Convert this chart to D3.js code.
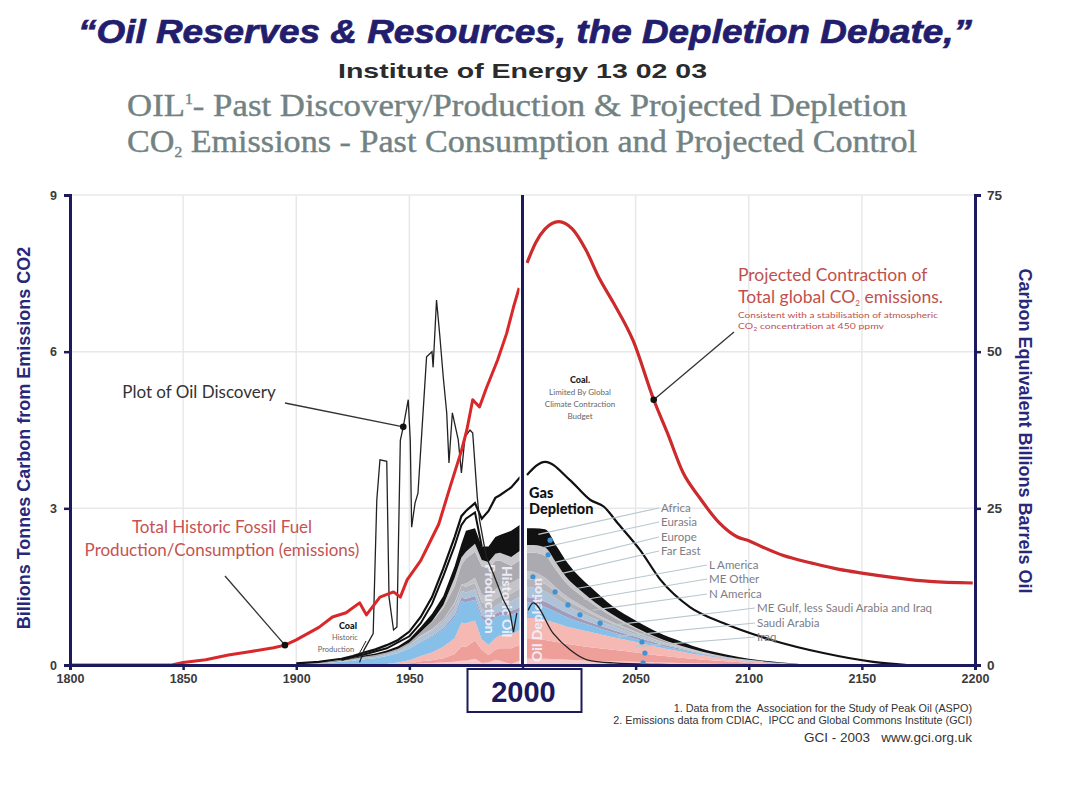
<!DOCTYPE html>
<html>
<head>
<meta charset="utf-8">
<script src="https://cdn.jsdelivr.net/npm/d3@7"></script>
<style>
  body { margin: 0; background: #fff; }
  svg { display: block; }
  .ann { font-family: Lato, "Noto Sans", sans-serif; }
</style>
</head>
<body>
<div id="chart"></div>
<script>
// ---- data ----
// emissions, billions tonnes carbon
const emisYears = [1800,1845,1850,1860,1870,1880,1890,1895,1900,1905,1910,1916,1922,1928,1931,1937,1943,1946,1949,1955,1958,1963,1968,1973,1975.4,1978,1981,1984,1989,1993,1996,1998.5];
const emisVals  = [0,0,0.05,0.1,0.19,0.26,0.33,0.38,0.48,0.6,0.72,0.92,1.0,1.19,0.96,1.3,1.4,1.3,1.63,2.0,2.26,2.7,3.41,4.1,4.5,5.08,4.94,5.3,5.84,6.35,6.85,7.22];
const projYears = [2002,2006,2010,2016,2022,2028,2034,2040,2049,2058,2064,2071,2078,2087,2095,2100,2106,2115,2128,2140,2150,2165,2180,2199];
const projVals  = [7.7,8.1,8.35,8.49,8.35,7.95,7.4,6.95,6.2,5.08,4.45,3.68,3.22,2.72,2.45,2.38,2.26,2.1,1.95,1.83,1.76,1.67,1.6,1.57];

// oil discovery
const discYears = [1928,1930,1934,1935.6,1937,1940,1941,1943,1944.5,1946,1947.3,1949.5,1950.4,1951,1952.5,1953.8,1957.6,1960,1960.5,1962,1963.5,1965,1966.5,1967.5,1969,1971.6,1973,1974.6,1976.8,1978,1980,1981,1984,1987,1991.5,1994.5,1996,1997.5];
const discVals  = [0.05,0.29,0.6,3.16,3.93,3.9,1.3,0.67,0.73,4.3,4.56,5.08,4.3,2.64,3.1,3.29,5.9,6.0,5.7,6.99,6.28,5.5,4.83,3.87,4.83,4.31,3.68,4.37,4.5,4.44,3.22,2.78,2.07,1.76,1.25,1.0,0.63,1.0];
const discProjYears = [2002.5,2004.7,2013.5,2021,2028.5,2040,2060,2075];
const discProjVals  = [1.05,1.19,0.61,0.29,0.1,0.04,0.01,0];

// oil production by region, historic
const histYears = [1900,1910,1920,1925,1930,1935,1940,1945,1950,1955,1960,1965,1970,1973,1975,1979,1982,1985,1988,1990,1995,1999];
const iraqH    = [0,0,0,0,0,0,0,0.01,0.01,0.03,0.04,0.05,0.06,0.08,0.08,0.12,0.04,0.05,0.1,0.08,0.02,0.09];
const saudiH   = [0,0,0,0,0,0,0,0.01,0.02,0.04,0.05,0.08,0.15,0.28,0.27,0.35,0.25,0.14,0.19,0.24,0.3,0.3];
const meGulfH  = [0,0,0,0,0.01,0.01,0.02,0.03,0.06,0.1,0.15,0.22,0.3,0.45,0.45,0.38,0.2,0.2,0.22,0.25,0.27,0.28];
const nAmH     = [0.015,0.03,0.06,0.08,0.1,0.12,0.15,0.18,0.22,0.27,0.3,0.33,0.4,0.41,0.4,0.4,0.4,0.42,0.4,0.38,0.37,0.36];
const meOtherH = [0,0,0,0,0,0,0,0,0.01,0.01,0.02,0.03,0.05,0.07,0.07,0.07,0.06,0.06,0.07,0.07,0.08,0.08];
const lAmH     = [0,0,0.01,0.02,0.03,0.03,0.04,0.05,0.07,0.09,0.1,0.11,0.13,0.13,0.12,0.13,0.13,0.14,0.15,0.16,0.18,0.2];
const farEastH = [0,0,0,0,0,0,0,0,0,0.01,0.02,0.04,0.08,0.1,0.11,0.12,0.12,0.13,0.14,0.14,0.15,0.16];
const europeH  = [0,0,0,0,0,0,0,0,0,0.01,0.01,0.01,0.02,0.02,0.06,0.1,0.15,0.17,0.18,0.18,0.2,0.2];
const eurasiaH = [0.005,0.01,0.01,0.02,0.02,0.03,0.03,0.03,0.04,0.07,0.14,0.22,0.32,0.38,0.48,0.5,0.54,0.54,0.54,0.5,0.33,0.34];
const africaH  = [0,0,0,0,0,0,0,0,0,0,0.01,0.06,0.16,0.14,0.13,0.15,0.12,0.12,0.14,0.15,0.17,0.18];
const bandH    = [0,0,0.01,0.01,0.02,0.03,0.04,0.05,0.07,0.1,0.14,0.17,0.22,0.26,0.4,0.3,0.26,0.3,0.32,0.34,0.5,0.5];
// gas envelope, historic
const gasH     = [0.03,0.06,0.12,0.17,0.24,0.3,0.38,0.48,0.64,0.92,1.3,1.85,2.45,2.85,2.95,3.1,2.8,2.95,3.2,3.25,3.4,3.6];
const innerYears = [1920,1930,1940,1950,1955,1960,1965,1970,1973,1975,1979,1982];
const innerVals  = [0.1,0.2,0.32,0.55,0.8,1.17,1.7,2.28,2.68,2.8,2.92,2.27];

// oil depletion by region, projected
const depYears = [2002,2005,2010,2015,2020,2025,2030,2040,2050,2060,2070,2080,2090,2100,2115,2130];
const iraqP    = [0.12,0.12,0.12,0.11,0.1,0.09,0.08,0.07,0.06,0.05,0.04,0.03,0.02,0.01,0,0];
const saudiP   = [0.38,0.38,0.36,0.33,0.3,0.28,0.26,0.22,0.18,0.13,0.1,0.07,0.05,0.03,0.01,0];
const meGulfP  = [0.4,0.4,0.38,0.36,0.33,0.31,0.29,0.24,0.2,0.16,0.12,0.08,0.05,0.04,0.02,0];
const nAmP     = [0.3,0.28,0.25,0.21,0.18,0.15,0.13,0.09,0.06,0.04,0.03,0.02,0.01,0.01,0,0];
const meOtherP = [0.1,0.1,0.1,0.09,0.08,0.07,0.06,0.05,0.04,0.03,0.02,0.01,0.01,0,0,0];
const lAmP     = [0.2,0.2,0.2,0.17,0.14,0.12,0.1,0.07,0.05,0.03,0.02,0.01,0.01,0.01,0.01,0];
const farEastP = [0.15,0.15,0.14,0.12,0.1,0.09,0.07,0.05,0.03,0.02,0.01,0.01,0,0,0,0];
const europeP  = [0.15,0.15,0.12,0.09,0.07,0.06,0.05,0.03,0.02,0.01,0.01,0,0,0,0,0];
const eurasiaP = [0.35,0.37,0.42,0.33,0.24,0.19,0.16,0.1,0.06,0.04,0.01,0.01,0.01,0,0,0];
const africaP  = [0.15,0.15,0.16,0.14,0.11,0.09,0.07,0.04,0.02,0.01,0.01,0.01,0,0,0,0];
const bandP    = [0.32,0.32,0.35,0.33,0.3,0.25,0.23,0.16,0.13,0.1,0.08,0.05,0.04,0.02,0.01,0];
const gasPYears = [2002,2010,2021,2030,2036,2042,2052,2061,2074,2089,2110,2133,2155,2170];
const gasPVals  = [3.64,3.89,3.54,3.16,3.03,2.72,2.2,1.63,1.11,0.8,0.48,0.23,0.06,0];

// blue dotted markers inside the projected stack
const dotYears = [2012.2,2011.3,2004.6,2014.4,2020.1,2025.4,2034.3,2052.8,2054.1,2053.3];
const dotVals  = [2.39,2.11,1.69,1.40,1.15,0.96,0.80,0.44,0.23,0.04];

const regions = ["Iraq","Saudi Arabia","ME Gulf, less Saudi Arabia and Iraq","N America","ME Other","L America","Far East","Europe","Eurasia","Africa"];
const regionColors = ["#f6cac8","#ef9f9a","#f5b8b3","#86bfe8","#a29bbb","#aec2d8","#b3b3ba","#c3c3c8","#aaaab0","#c9c9cd"];

const leftTicks = [0,3,6,9];
const rightTicks = [0,25,50,75];
const xTicks = [1800,1850,1900,1950,2000,2050,2100,2150,2200];

// ---- layout ----
const W = 1072, H = 809;
const svg = d3.select("#chart").append("svg").attr("width", W).attr("height", H);

const x = d3.scaleLinear().domain([1800, 2200]).range([70, 975]);
const y = d3.scaleLinear().domain([0, 9]).range([665, 195]);
const yR = d3.scaleLinear().domain([0, 75]).range([665, 195]);
const navy = "#1c1a5c";

// titles
svg.append("text").attr("x", 78).attr("y", 43).attr("textLength", 894).attr("lengthAdjust", "spacingAndGlyphs")
  .style("font-family", "'Liberation Sans', Arial, sans-serif").style("font-weight", "bold").style("font-style", "italic")
  .style("font-size", "33px").style("fill", "#221d6c").style("stroke", "#221d6c").style("stroke-width", 0.7)
  .text("\u201cOil Reserves & Resources, the Depletion Debate,\u201d");
svg.append("text").attr("x", 338).attr("y", 78).attr("textLength", 369).attr("lengthAdjust", "spacingAndGlyphs")
  .style("font-family", "'Liberation Sans Narrow', 'Liberation Sans', sans-serif").style("font-weight", "bold")
  .style("font-size", "21px").style("fill", "#2b2b2b")
  .text("Institute of Energy 13 02 03");
const t3 = svg.append("text").attr("x", 127).attr("y", 116).attr("textLength", 780).attr("lengthAdjust", "spacingAndGlyphs")
  .style("font-family", "'Liberation Serif', serif").style("font-size", "31px").style("fill", "#728282")
  .style("stroke", "#728282").style("stroke-width", 0.4);
t3.append("tspan").text("OIL");
t3.append("tspan").attr("dy", -12).style("font-size", "14px").text("1");
t3.append("tspan").attr("dy", 12).text("- Past Discovery/Production & Projected Depletion");
const t4 = svg.append("text").attr("x", 127).attr("y", 152).attr("textLength", 790).attr("lengthAdjust", "spacingAndGlyphs")
  .style("font-family", "'Liberation Serif', serif").style("font-size", "31px").style("fill", "#728282")
  .style("stroke", "#728282").style("stroke-width", 0.4);
t4.append("tspan").text("CO");
t4.append("tspan").attr("dy", 5).style("font-size", "14px").text("2");
t4.append("tspan").attr("dy", -5).text(" Emissions - Past Consumption and Projected Control");

// grid
const grid = svg.append("g");
grid.selectAll(".gx").data([1850,1900,1950,2050,2100,2150]).enter().append("line")
  .attr("x1", d => x(d)).attr("x2", d => x(d)).attr("y1", y(9)).attr("y2", y(0))
  .attr("stroke", "#e8e8e8").attr("stroke-width", 1.5);
grid.selectAll(".gy").data([3,6,9]).enter().append("line")
  .attr("x1", x(1800)).attr("x2", x(2200)).attr("y1", d => y(d)).attr("y2", d => y(d))
  .attr("stroke", "#e8e8e8").attr("stroke-width", 1.5);

// clips for the two halves
const defs = svg.append("defs");
defs.append("clipPath").attr("id", "past").append("rect")
  .attr("x", x(1800)).attr("y", y(9)).attr("width", x(2000) - x(1800) - 3).attr("height", y(0) - y(9));
defs.append("clipPath").attr("id", "future").append("rect")
  .attr("x", x(2000) + 3).attr("y", y(9)).attr("width", x(2200) - x(2000) - 3).attr("height", y(0) - y(9));

const keys = regions.concat(["band"]);
const colors = regionColors.concat(["#111"]);

function table(years, cols) {
  return years.map((yr, i) => {
    const row = { year: yr };
    keys.forEach((k, j) => row[k] = cols[j][i]);
    return row;
  });
}
const histTable = table(histYears, [iraqH, saudiH, meGulfH, nAmH, meOtherH, lAmH, farEastH, europeH, eurasiaH, africaH, bandH]);
const projTable = table(depYears, [iraqP, saudiP, meGulfP, nAmP, meOtherP, lAmP, farEastP, europeP, eurasiaP, africaP, bandP]);
const stack = d3.stack().keys(keys);

function drawStack(rows, clip, curve) {
  const area = d3.area().x(d => x(d.data.year)).y0(d => y(d[0])).y1(d => y(d[1])).curve(curve);
  svg.append("g").attr("clip-path", `url(#${clip})`)
    .selectAll("path").data(stack(rows)).enter().append("path")
    .attr("d", area).attr("fill", (d, i) => colors[i]);
}
drawStack(histTable, "past", d3.curveLinear);
drawStack(projTable, "future", d3.curveMonotoneX);

const pairs = (xs, vs) => xs.map((v, i) => [v, vs[i]]);
const lineOf = curve => d3.line().x(d => x(d[0])).y(d => y(d[1])).curve(curve);

// rotated labels inside the stacks
const whiteTxt = (tx, ty, rot, s) => svg.append("text").attr("class", "ann")
  .attr("transform", `translate(${tx},${ty}) rotate(${rot})`)
  .style("font-size", "14px").style("font-weight", "900").style("fill", "#f2f0fa").style("opacity", 0.92).text(s);
whiteTxt(x(1983.5), 564, 90, "Production");
whiteTxt(x(1991), 566, 90, "Historic Oil");
whiteTxt(x(2008.5), 662, -90, "Oil Depletion");

// black envelope lines
const past = svg.append("g").attr("clip-path", "url(#past)");
const fut = svg.append("g").attr("clip-path", "url(#future)");
past.append("path").attr("d", lineOf(d3.curveLinear)(pairs(histYears, gasH)))
  .attr("fill", "none").attr("stroke", "#111").attr("stroke-width", 2.2);
past.append("path").attr("d", lineOf(d3.curveLinear)(pairs(innerYears, innerVals)))
  .attr("fill", "none").attr("stroke", "#111").attr("stroke-width", 2);
fut.append("path").attr("d", lineOf(d3.curveMonotoneX)(pairs(gasPYears, gasPVals)))
  .attr("fill", "none").attr("stroke", "#111").attr("stroke-width", 2.2);

// discovery
past.append("path").attr("d", lineOf(d3.curveLinear)(pairs(discYears, discVals)))
  .attr("fill", "none").attr("stroke", "#222").attr("stroke-width", 1.3);
fut.append("path").attr("d", lineOf(d3.curveMonotoneX)(pairs(discProjYears, discProjVals)))
  .attr("fill", "none").attr("stroke", "#222").attr("stroke-width", 1.3);

// blue dots
svg.selectAll(".bd").data(pairs(dotYears, dotVals)).enter().append("circle")
  .attr("cx", d => x(d[0])).attr("cy", d => y(d[1])).attr("r", 2.6).attr("fill", "#3d93d6");

// emissions
past.append("path").attr("d", lineOf(d3.curveLinear)(pairs(emisYears, emisVals)))
  .attr("fill", "none").attr("stroke", "#d8282a").attr("stroke-width", 3).attr("stroke-linejoin", "round");
fut.append("path").attr("d", lineOf(d3.curveMonotoneX)(pairs(projYears, projVals)))
  .attr("fill", "none").attr("stroke", "#cc2a2c").attr("stroke-width", 3.2);

// axes
const axL = svg.append("g").attr("transform", `translate(${x(1800)},0)`)
  .call(d3.axisLeft(y).tickValues(leftTicks).tickSize(6).tickFormat(d3.format("d")));
const axR = svg.append("g").attr("transform", `translate(${x(2200)},0)`)
  .call(d3.axisRight(yR).tickValues(rightTicks).tickSize(6).tickFormat(d3.format("d")));
const axB = svg.append("g").attr("transform", `translate(0,${y(0)})`)
  .call(d3.axisBottom(x).tickValues(xTicks).tickSize(5).tickFormat(d => d === 2000 ? "" : d));
[axL, axR, axB].forEach(a => {
  a.select(".domain").attr("stroke", navy).attr("stroke-width", 3);
  a.selectAll(".tick line").attr("stroke", navy).attr("stroke-width", 2.5);
  a.selectAll("text").style("font-family", "'Liberation Sans', Arial, sans-serif").style("font-weight", "bold")
    .style("font-size", "12.5px").style("fill", "#3a3a3a");
});
axL.selectAll("text").attr("dx", -4);
axR.selectAll("text").attr("dx", 3).style("font-size", "13.5px");
axB.selectAll("text").attr("dy", 10);

// 2000 divider and box
svg.append("line").attr("x1", x(2000)).attr("x2", x(2000)).attr("y1", y(9)).attr("y2", y(0))
  .attr("stroke", navy).attr("stroke-width", 3);
svg.append("rect").attr("x", x(2000) - 55).attr("y", y(0) + 4).attr("width", 114).attr("height", 43)
  .attr("fill", "#fff").attr("stroke", navy).attr("stroke-width", 2);
svg.append("text").attr("x", x(2000) + 1).attr("y", y(0) + 37).attr("text-anchor", "middle")
  .style("font-family", "'Liberation Sans', Arial, sans-serif").style("font-weight", "bold")
  .style("font-size", "29px").style("fill", navy).text("2000");

// axis titles
svg.append("text").attr("transform", `translate(30,438) rotate(-90)`).attr("text-anchor", "middle")
  .style("font-family", "'Liberation Sans', Arial, sans-serif").style("font-weight", "bold")
  .style("font-size", "18px").style("fill", "#28287a").text("Billions Tonnes Carbon from Emissions CO2");
svg.append("text").attr("transform", `translate(1019,431) rotate(90)`).attr("text-anchor", "middle")
  .style("font-family", "'Liberation Sans', Arial, sans-serif").style("font-weight", "bold")
  .style("font-size", "18px").style("fill", "#28287a").text("Carbon Equivalent Billions Barrels Oil");

// annotations
const ann = (tx, ty, s, size, fill, weight, anchor) => svg.append("text").attr("class", "ann")
  .attr("x", tx).attr("y", ty).attr("text-anchor", anchor || "start")
  .style("font-size", size + "px").style("fill", fill).style("font-weight", weight || "normal").text(s);
const leader = (x1, y1, x2, y2, c, w) => svg.append("line").attr("x1", x1).attr("y1", y1).attr("x2", x2).attr("y2", y2)
  .attr("stroke", c || "#333").attr("stroke-width", w || 1.3);
const dot = (p) => svg.append("circle").attr("cx", x(p[0])).attr("cy", y(p[1])).attr("r", 3.3).attr("fill", "#111");

ann(199, 398, "Plot of Oil Discovery", 17, "#333", "normal", "middle");
leader(285, 403, x(1947.3), y(4.56));
dot([1947.3, 4.56]);

ann(222, 533, "Total Historic Fossil Fuel", 17, "#c55352", "normal", "middle");
ann(222, 556, "Production/Consumption (emissions)", 17, "#c55352", "normal", "middle");
leader(225, 576, x(1895), y(0.38));
dot([1895, 0.38]);

ann(348, 629, "Coal", 9, "#111", "900", "middle");
ann(345, 640, "Historic", 7.5, "#666", "normal", "middle");
ann(336, 652, "Production", 7.5, "#666", "normal", "middle");
leader(359, 654, 366, 641, "#222", 1);

ann(580, 383, "Coal.", 9, "#222", "900", "middle");
ann(580, 395, "Limited By Global", 8, "#666", "normal", "middle");
ann(580, 407, "Climate Contraction", 8, "#666", "normal", "middle");
ann(580, 419, "Budget", 8, "#666", "normal", "middle");

ann(529, 498, "Gas", 14.5, "#111", "900");
ann(529, 514, "Depletion", 14.5, "#111", "900");

ann(738, 281, "Projected Contraction of", 17.5, "#c0504d");
const pc2 = svg.append("text").attr("class", "ann").attr("x", 738).attr("y", 303)
  .style("font-size", "17.5px").style("fill", "#c0504d");
pc2.append("tspan").text("Total global CO");
pc2.append("tspan").attr("dy", 3).style("font-size", "8px").text("2");
pc2.append("tspan").attr("dy", -3).text(" emissions.");
svg.append("text").attr("class", "ann").attr("x", 738).attr("y", 318).attr("textLength", 200).attr("lengthAdjust", "spacingAndGlyphs")
  .style("font-size", "7.5px").style("fill", "#c0504d").text("Consistent with a stabilisation of atmospheric");
const pc4 = svg.append("text").attr("class", "ann").attr("x", 738).attr("y", 329).attr("textLength", 146).attr("lengthAdjust", "spacingAndGlyphs")
  .style("font-size", "7.5px").style("fill", "#c0504d");
pc4.append("tspan").text("CO");
pc4.append("tspan").attr("dy", 1.5).style("font-size", "5px").text("2");
pc4.append("tspan").attr("dy", -1.5).text(" concentration at 450 ppmv");
leader(734, 332, x(2058), y(5.08));
dot([2058, 5.08]);

// region labels with leader lines into the depletion stack
const regionLabels = [
  { name: "Africa", lx: 661, ly: 512, at: [2007, 2.5] },
  { name: "Eurasia", lx: 661, ly: 526, at: [2009, 2.25] },
  { name: "Europe", lx: 661, ly: 541, at: [2013, 1.95] },
  { name: "Far East", lx: 661, ly: 555, at: [2017, 1.75] },
  { name: "L America", lx: 709, ly: 569, at: [2022, 1.45] },
  { name: "ME Other", lx: 709, ly: 583, at: [2027, 1.25] },
  { name: "N America", lx: 709, ly: 598, at: [2031, 1.05] },
  { name: "ME Gulf, less Saudi Arabia and Iraq", lx: 757, ly: 612, at: [2037, 0.75] },
  { name: "Saudi Arabia", lx: 757, ly: 627, at: [2042, 0.55] },
  { name: "Iraq", lx: 757, ly: 641, at: [2050, 0.35] }
];
regionLabels.forEach(r => {
  leader(r.lx - 2, r.ly - 4, x(r.at[0]), y(r.at[1]), "#b8c8ce", 1.2);
  ann(r.lx, r.ly, r.name, 11.5, "#7d7d86");
});

// footnotes
const foot = (ty, s, size) => svg.append("text").attr("x", 972).attr("y", ty).attr("text-anchor", "end")
  .attr("xml:space", "preserve").style("white-space", "pre")
  .style("font-family", "'Liberation Sans', Arial, sans-serif").style("font-size", size + "px").style("fill", "#333").text(s);
foot(712, "1. Data from the  Association for the Study of Peak Oil (ASPO)", 10.8);
foot(724, "2. Emissions data from CDIAC,  IPCC and Global Commons Institute (GCI)", 10.8);
foot(742, "GCI - 2003   www.gci.org.uk", 13.5);
</script>
</body>
</html>
